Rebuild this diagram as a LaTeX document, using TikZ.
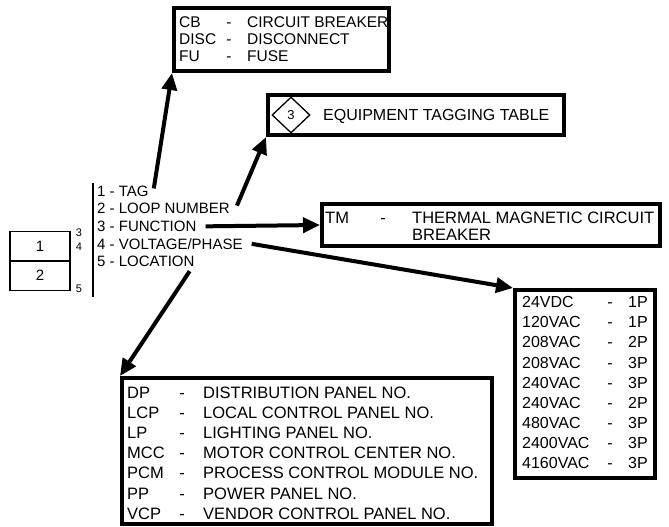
\documentclass[tikz,border=0pt]{standalone}
\usepackage{fontspec}
\setmainfont{Liberation Sans}
\usetikzlibrary{arrows.meta,shapes.geometric,calc}

\tikzset{
  tagbox/.style={draw, line width=4pt, inner sep=0pt},
  cellbox/.style={draw, line width=1.5pt, minimum width=60pt, minimum height=29.5pt, inner sep=0pt, fs=15},
  conn/.style={line width=4pt, -{Triangle[length=17pt,width=15pt]}},
  lbl/.style={anchor=base west, inner sep=0pt},
  dashmark/.style={anchor=base, inner sep=0pt},
  fs/.style={font=\fontsize{#1}{#1}\selectfont},
}

\begin{document}
\begin{tikzpicture}[x=1pt, y=-1pt]
    \useasboundingbox (0,0) rectangle (669,527);

    % tag symbol with its two fields
    \node[cellbox] (c1) at (40,246) {1};
    \node[cellbox] (c2) at (40,275.5) {2};
    \node[fs=11, inner sep=0pt] (n3) at (79,233) {3};
    \node[fs=11, inner sep=0pt] (n4) at (79,247) {4};
    \node[fs=11, inner sep=0pt] (n5) at (79,289) {5};
    \draw[line width=1.5pt] (93,183) -- (93,297);

    % list of fields
    \node[lbl, fs=15] (tag)  at (97,196.1) {1 - TAG};
    \node[lbl, fs=15] (loop) at (97,213.8) {2 - LOOP NUMBER};
    \node[lbl, fs=15] (func) at (97,231.5) {3 - FUNCTION};
    \node[lbl, fs=15] (volt) at (97,249.2) {4 - VOLTAGE/PHASE};
    \node[lbl, fs=15] (loc)  at (97,266.9) {5 - LOCATION};

    % tag table
    \node[tagbox, minimum width=215pt, minimum height=63pt] (cbbox) at (281.5,39.5) {};
    \foreach \ab/\txt [count=\i] in {CB/CIRCUIT BREAKER, DISC/DISCONNECT, FU/FUSE} {
        \node[lbl, fs=15.5] (cbab\i) at (179,{27.5+17*(\i-1)}) {\ab};
        \node[dashmark, fs=15.5] (cbdash\i) at (229,{27.5+17*(\i-1)}) {-};
        \node[lbl, fs=15.5] (cbtxt\i) at (247,{27.5+17*(\i-1)}) {\txt};
    }

    % loop number reference
    \node[tagbox, minimum width=296pt, minimum height=40pt] (eqbox) at (416,115) {};
    \node[draw, diamond, line width=1.3pt, minimum width=38pt, minimum height=36pt, inner sep=0pt, fs=13] (eqmark) at (291,115) {3};
    \node[lbl, fs=16] (eqtxt) at (323,120.7) {EQUIPMENT TAGGING TABLE};

    % function table
    \node[tagbox, minimum width=338pt, minimum height=42pt] (tmbox) at (491,225) {};
    \node[lbl, fs=16.5] (tmab) at (325,223) {TM};
    \node[dashmark, fs=16.5] (tmdash) at (383,223) {-};
    \node[lbl, fs=16.5] (tmtxt1) at (412,223) {THERMAL MAGNETIC CIRCUIT};
    \node[lbl, fs=16.5] (tmtxt2) at (412,240) {BREAKER};

    % voltage/phase table
    \node[tagbox, minimum width=140pt, minimum height=188pt] (vbox) at (585,384) {};
    \foreach \v/\p [count=\i] in {24VDC/1P, 120VAC/1P, 208VAC/2P, 208VAC/3P, 240VAC/3P,
                                  240VAC/2P, 480VAC/3P, 2400VAC/3P, 4160VAC/3P} {
        \node[lbl, fs=16] (vv\i) at (522,{307.7+20.1*(\i-1)}) {\v};
        \node[dashmark, fs=16] (vdash\i) at (610,{307.7+20.1*(\i-1)}) {-};
        \node[anchor=base east, inner sep=0pt, fs=16] (vp\i) at (648,{307.7+20.1*(\i-1)}) {\p};
    }

    % location table
    \node[tagbox, minimum width=370pt, minimum height=146pt] (locbox) at (307,451) {};
    \foreach \ab/\txt [count=\i] in {DP/DISTRIBUTION PANEL NO., LCP/LOCAL CONTROL PANEL NO.,
                                     LP/LIGHTING PANEL NO., MCC/MOTOR CONTROL CENTER NO.,
                                     PCM/PROCESS CONTROL MODULE NO., PP/POWER PANEL NO.,
                                     VCP/VENDOR CONTROL PANEL NO.} {
        \node[lbl, fs=16.5] (locab\i) at (127,{398+20.2*(\i-1)}) {\ab};
        \node[dashmark, fs=16.5] (locdash\i) at (182,{398+20.2*(\i-1)}) {-};
        \node[lbl, fs=16.5] (loctxt\i) at (203,{398+20.2*(\i-1)}) {\txt};
    }

    % arrows from the fields to their tables
    \draw[conn] ([xshift=5pt,yshift=2.5pt]tag.east) -- (cbbox.south west);
    \draw[conn] ([xshift=7pt,yshift=3pt]loop.east) -- (eqbox.south west);
    \draw[conn] ([xshift=9pt]func.east) -- (tmbox.west);
    \draw[conn] ([xshift=9pt]volt.east) -- (vbox.north west);
    \draw[conn] ([xshift=-5pt,yshift=-4pt]loc.south east) -- (locbox.north west);
\end{tikzpicture}
\end{document}
